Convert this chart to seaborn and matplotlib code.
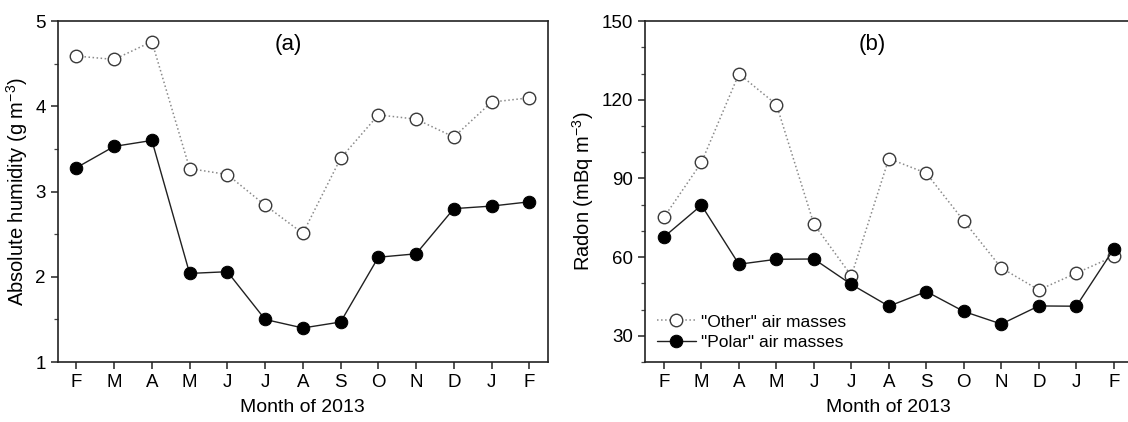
import numpy as np
import pandas as pd
import seaborn as sns
import matplotlib.pyplot as plt
from matplotlib.ticker import MultipleLocator

sns.set_theme(style="ticks")
plt.rcParams['font.family'] = ['Liberation Sans', 'DejaVu Sans']
plt.rcParams['mathtext.fontset'] = 'custom'
plt.rcParams['mathtext.rm'] = 'Liberation Sans'
plt.rcParams['mathtext.it'] = 'Liberation Sans'
plt.rcParams['text.color'] = 'black'
plt.rcParams['axes.labelcolor'] = 'black'
plt.rcParams['xtick.color'] = 'black'
plt.rcParams['ytick.color'] = 'black'

meses = ["F", "M", "A", "M", "J", "J", "A", "S", "O", "N", "D", "J", "F"]

# humedad absoluta (g m-3)
hum_other = [4.59, 4.55, 4.76, 3.27, 3.20, 2.84, 2.51, 3.39, 3.90, 3.85, 3.64, 4.05, 4.10]
hum_polar = [3.28, 3.53, 3.60, 2.04, 2.06, 1.50, 1.40, 1.47, 2.23, 2.27, 2.80, 2.83, 2.88]

# radon (mBq m-3)
rad_other = [75.2, 96.1, 129.9, 118.2, 72.6, 52.9, 97.6, 92.0, 73.8, 55.9, 47.5, 53.9, 60.3]
rad_polar = [67.7, 79.8, 57.3, 59.2, 59.3, 49.6, 41.3, 46.9, 39.3, 34.5, 41.4, 41.3, 63.1]

df = pd.DataFrame({"pos": np.arange(len(meses)),
                   "hum_other": hum_other, "hum_polar": hum_polar,
                   "rad_other": rad_other, "rad_polar": rad_polar})

fig = plt.figure(figsize=(11.28, 4.22), dpi=100)
ax1 = fig.add_axes([0.051, 0.142, 0.435, 0.808])
ax2 = fig.add_axes([0.572, 0.142, 0.432, 0.808])

estilo_other = dict(color="#8a8a8a", linestyle=":", linewidth=1.1, marker="o",
                    markersize=9, markerfacecolor="white", markeredgecolor="#3a3a3a",
                    markeredgewidth=1.0)
estilo_polar = dict(color="#202020", linestyle="-", linewidth=1.0, marker="o",
                    markersize=9, markerfacecolor="black", markeredgecolor="black")

for ax, c1, c2 in [(ax1, "hum_other", "hum_polar"), (ax2, "rad_other", "rad_polar")]:
    sns.lineplot(x="pos", y=c1, data=df, ax=ax, label='"Other" air masses', **estilo_other)
    sns.lineplot(x="pos", y=c2, data=df, ax=ax, label='"Polar" air masses', **estilo_polar)
    ax.set_xlim(-0.5, 12.5)
    ax.set_xticks(df["pos"])
    ax.set_xticklabels(meses)
    ax.set_xlabel("Month of 2013", fontsize=14, labelpad=6)
    ax.tick_params(axis="both", which="major", labelsize=13.5, direction="out",
                   length=5, width=1.1, color="#222222")
    ax.tick_params(axis="y", which="minor", direction="out", length=3, width=0.9,
                   color="#444444")
    for s in ax.spines.values():
        s.set_linewidth(1.2)
        s.set_color("#222222")
        s.set_visible(True)

ax1.set_ylim(1, 5)
ax1.set_yticks([1, 2, 3, 4, 5])
ax1.yaxis.set_minor_locator(MultipleLocator(0.5))
ax1.set_ylabel("Absolute humidity (g m$^{-3}$)", fontsize=14.5, labelpad=4)
ax1.text(0.47, 0.93, "(a)", transform=ax1.transAxes, fontsize=16, ha="center", va="center")
ax1.get_legend().remove()

ax2.set_ylim(20, 150)
ax2.set_yticks([30, 60, 90, 120, 150])
ax2.yaxis.set_minor_locator(MultipleLocator(10))
ax2.set_ylabel("Radon (mBq m$^{-3}$)", fontsize=14.5, labelpad=4)
ax2.text(0.466, 0.93, "(b)", transform=ax2.transAxes, fontsize=16, ha="center", va="center")
ax2.legend(loc="lower left", frameon=False, fontsize=12.5, handlelength=2.2,
           handletextpad=0.3, borderaxespad=0.3, labelspacing=0.3)

plt.savefig("out.png", dpi=100)
